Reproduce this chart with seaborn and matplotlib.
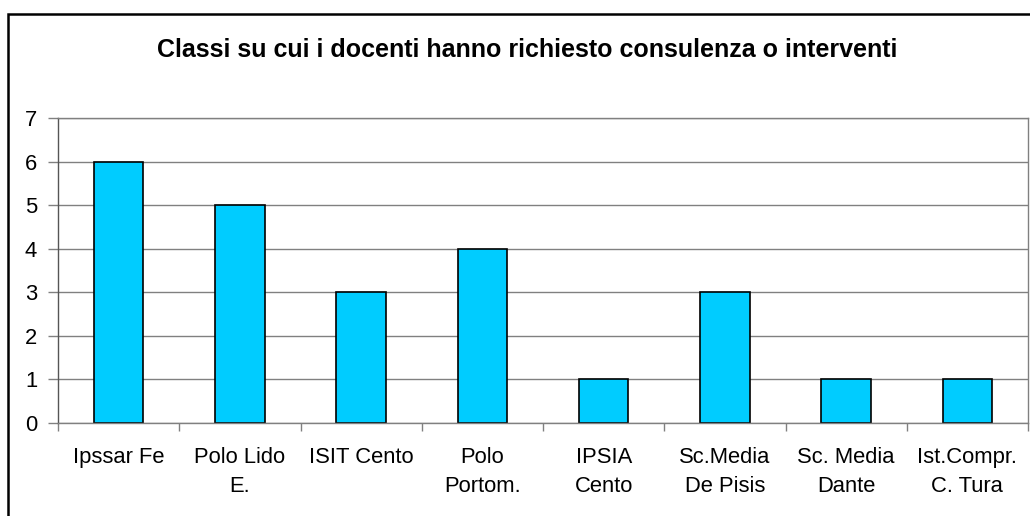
import matplotlib
matplotlib.use("Agg")
import pandas as pd
import seaborn as sns
import matplotlib.pyplot as plt
from matplotlib.patches import Rectangle

# dati
scuole = ["Ipssar Fe", "Polo Lido\nE.", "ISIT Cento", "Polo\nPortom.",
          "IPSIA\nCento", "Sc.Media\nDe Pisis", "Sc. Media\nDante", "Ist.Compr.\nC. Tura"]
classi = [6, 5, 3, 4, 1, 3, 1, 1]
titolo = "Classi su cui i docenti hanno richiesto consulenza o interventi"

df = pd.DataFrame({"Scuola": scuole, "Classi": classi})

sns.set_style("white")
plt.rcParams['font.family'] = ['Liberation Sans', 'DejaVu Sans']
plt.rcParams['text.color'] = 'black'
plt.rcParams['xtick.labelcolor'] = 'black'
plt.rcParams['ytick.labelcolor'] = 'black'

fig = plt.figure(figsize=(10.30, 5.16), dpi=100)
ax = fig.add_axes([58 / 1030, 1 - 423 / 516, 970 / 1030, 305 / 516])

sns.barplot(data=df, x="Scuola", y="Classi", color="#00CCFF", saturation=1,
            width=0.41, edgecolor="black", linewidth=1.2, ax=ax)

ax.set_ylim(0, 7)
ax.set_xlim(-0.5, len(scuole) - 0.5)
ax.set_yticks(range(0, 8))
ax.yaxis.grid(True, color="#808080", linewidth=1)
ax.set_axisbelow(True)
ax.set_xlabel("")
ax.set_ylabel("")

# tacche dell'asse x ai confini delle categorie (stile Excel)
ax.set_xticks([i - 0.5 for i in range(len(scuole) + 1)], minor=True)
ax.tick_params(axis="x", which="major", length=0, pad=17, labelsize=15.8, labelcolor="black")
ax.tick_params(axis="x", which="minor", length=6, width=1, color="#808080", direction="out", bottom=True)
ax.tick_params(axis="y", length=7, width=1, color="#808080", direction="out", left=True, pad=8,
               labelsize=15.8, labelcolor="black")
for lab in ax.get_xticklabels():
    lab.set_linespacing(1.5)

for s in ax.spines.values():
    s.set_color("#808080")
    s.set_linewidth(1)
ax.spines["left"].set_color("#555555")

fig.text(527 / 1030, 1 - 50 / 516, titolo, ha="center", va="center",
         fontsize=18, fontweight="bold", color="black")

# cornice esterna del grafico
fig.patches.append(Rectangle((8 / 1030, -0.2), 1.2, 1.2 - 14 / 516,
                             transform=fig.transFigure, fill=False,
                             edgecolor="black", linewidth=1.8))

fig.savefig("out.png", dpi=100)
